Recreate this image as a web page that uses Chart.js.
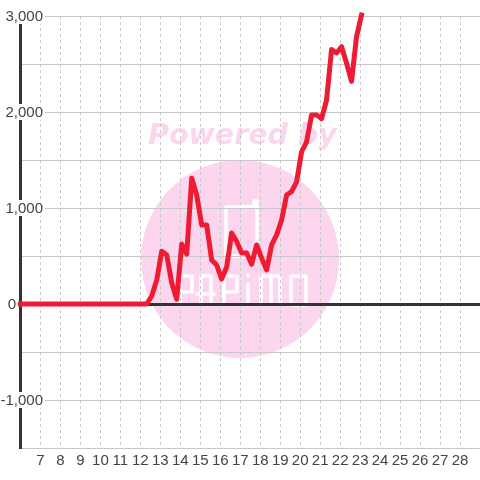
<!DOCTYPE html>
<html>
<head>
<meta charset="utf-8">
<title>Chart</title>
<style>
  html, body { margin: 0; padding: 0; background: #fff; }
  #wrap { width: 480px; height: 480px; }
</style>
<script src="https://cdn.jsdelivr.net/npm/chart.js@4"></script>
</head>
<body>
<div id="wrap"><canvas id="chart" width="480" height="480"></canvas></div>
<script>
const days = [
  6, 7, 8, 9, 10, 11, 12.07, 12.32, 12.57, 12.82,
  13.07, 13.32, 13.57, 13.82, 14.07, 14.32, 14.57, 14.82,
  15.07, 15.32, 15.57, 15.82, 16.07, 16.32, 16.57, 16.82,
  17.07, 17.32, 17.57, 17.82, 18.07, 18.32, 18.57, 18.82,
  19.07, 19.32, 19.57, 19.82, 20.07, 20.32, 20.57, 20.82,
  21.07, 21.32, 21.57, 21.82, 22.07, 22.32, 22.57, 22.82, 23.07
];
const values = [
  0, 0, 0, 0, 0, 0, 0, 0, 83, 250,
  550, 510, 219, 50, 625, 520, 1310, 1135,
  823, 823, 458, 406, 260, 385, 740, 650,
  531, 531, 415, 615, 479, 355, 615, 719,
  875, 1135, 1170, 1273, 1586, 1690, 1970, 1970,
  1930, 2125, 2650, 2615, 2680, 2510, 2320, 2785, 3010
];
const yLabelled = [3000, 2000, 1000, 0, -1000];

const lineColor = '#ee1c33';
const axisColor = '#333333';
const gridColor = '#c8c8c8';
const textColor = '#444444';
const markColor = '#fbd6ee';

function strokeShape(ctx, pts, close) {
  ctx.beginPath();
  pts.forEach((p, i) => i ? ctx.lineTo(p[0], p[1]) : ctx.moveTo(p[0], p[1]));
  if (close) ctx.closePath();
  ctx.stroke();
}

// watermark sits behind the grid
const watermark = {
  id: 'watermark',
  beforeDraw(chart) {
    const ctx = chart.ctx;
    ctx.save();
    ctx.fillStyle = markColor;
    ctx.beginPath();
    ctx.arc(240, 259, 99, 0, Math.PI * 2);
    ctx.fill();
    ctx.font = 'italic bold 28.5px "DejaVu Sans"';
    ctx.textAlign = 'left';
    ctx.textBaseline = 'middle';
    ctx.fillText('Powered by', 148, 137);
    ctx.strokeStyle = '#fff';
    ctx.lineWidth = 3.5;
    ctx.lineJoin = 'round';
    ctx.lineCap = 'round';
    // logo box
    strokeShape(ctx, [[226, 256], [226, 207], [254, 207], [254, 201], [257, 201], [257, 256]], true);
    // PAPiMO letters
    strokeShape(ctx, [[180, 304], [180, 276], [192, 276], [192, 292], [180, 292]]);
    strokeShape(ctx, [[197, 294], [214, 294]]);
    strokeShape(ctx, [[201, 304], [201, 276], [211, 276], [211, 304]]);
    strokeShape(ctx, [[224, 304], [224, 276], [237, 276], [237, 292], [224, 292]]);
    strokeShape(ctx, [[248, 284], [248, 304]]);
    strokeShape(ctx, [[248, 275], [248, 276]]);
    strokeShape(ctx, [[261, 304], [261, 276], [280, 276], [280, 304]]);
    strokeShape(ctx, [[271, 276], [271, 304]]);
    strokeShape(ctx, [[291, 276], [306, 276], [306, 305], [291, 305]], true);
    ctx.restore();
  }
};

// y labels sit on white boxes that cut the axis, 0 goes left of it
const yTickLabels = {
  id: 'yTickLabels',
  afterDatasetsDraw(chart) {
    const ctx = chart.ctx;
    const y = chart.scales.y;
    ctx.save();
    ctx.font = '15px "Liberation Sans"';
    ctx.textAlign = 'right';
    ctx.textBaseline = 'middle';
    yLabelled.forEach(v => {
      const py = y.getPixelForValue(v);
      const txt = v.toLocaleString('en-US');
      if (v === 0) {
        ctx.fillStyle = textColor;
        ctx.fillText(txt, 16, py + 1);
        return;
      }
      ctx.fillStyle = '#fff';
      ctx.fillRect(0, py - 8, 45, 16);
      ctx.fillStyle = textColor;
      ctx.fillText(txt, 43, py + 1);
    });
    ctx.restore();
  }
};

new Chart(document.getElementById('chart').getContext('2d'), {
  type: 'line',
  data: {
    labels: days,
    datasets: [{
      data: days.map((d, i) => ({ x: d, y: values[i] })),
      borderColor: lineColor,
      borderWidth: 5,
      borderCapStyle: 'square',
      borderJoinStyle: 'round',
      pointRadius: 0,
      tension: 0,
      clip: false
    }]
  },
  options: {
    responsive: false,
    animation: false,
    layout: { padding: { top: 16, left: 0, right: 0, bottom: 0 } },
    plugins: { legend: { display: false }, tooltip: { enabled: false } },
    scales: {
      x: {
        type: 'linear',
        min: 6,
        max: 29,
        afterFit(s) { s.paddingLeft = 0; s.paddingRight = 0; s.height = 32; },
        border: { color: gridColor, width: 1, dash: [3, 3] },
        grid: {
          color: ctx => (ctx.tick.value === 6 || ctx.tick.value === 29) ? 'transparent' : gridColor,
          lineWidth: 1,
          drawTicks: false
        },
        ticks: {
          stepSize: 1,
          autoSkip: false,
          maxRotation: 0,
          padding: 4,
          color: textColor,
          font: { family: '"Liberation Sans"', size: 15 },
          callback: v => (v === 6 || v === 29) ? '' : String(v)
        }
      },
      y: {
        min: -1500,
        max: 3000,
        afterFit(s) { s.width = 20.5; },
        border: { color: axisColor, width: 3 },
        grid: {
          color: ctx => ctx.tick.value === 0 ? axisColor : gridColor,
          lineWidth: ctx => ctx.tick.value === 0 ? 3 : 1,
          drawTicks: false
        },
        ticks: { stepSize: 500, display: false }
      }
    }
  },
  plugins: [watermark, yTickLabels]
});
</script>
</body>
</html>
